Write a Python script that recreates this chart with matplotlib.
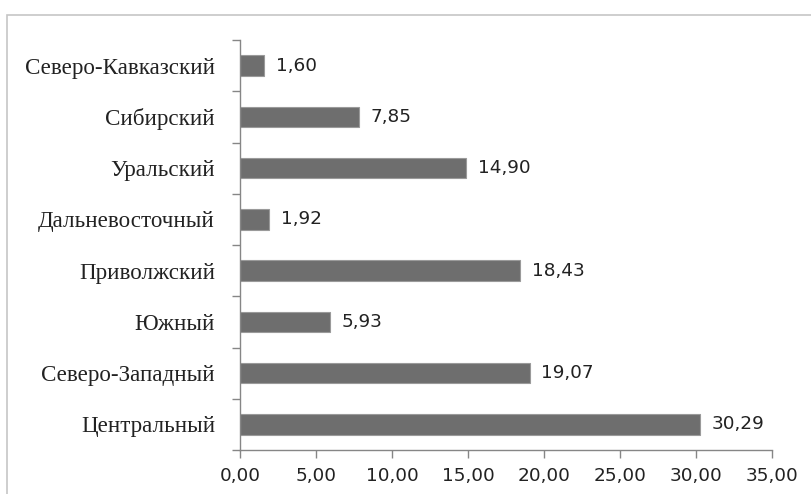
import matplotlib
matplotlib.use('Agg')
import matplotlib.pyplot as plt
from matplotlib.patches import Rectangle

# regions, bottom to top as drawn on the chart
regions = ['Центральный', 'Северо-Западный', 'Южный', 'Приволжский',
           'Дальневосточный', 'Уральский', 'Сибирский', 'Северо-Кавказский']
values = [30.29, 19.07, 5.93, 18.43, 1.92, 14.90, 7.85, 1.60]
xticks = [0, 5, 10, 15, 20, 25, 30, 35]

axis_color = '#868686'
bar_color = '#6e6e6e'
text_color = '#222222'

fig = plt.figure(figsize=(8.12, 4.94), dpi=100)
# light frame around the chart area
fig.patches.append(Rectangle((7 / 812, -0.1), 1.2, 1 - 15 / 494 + 0.1,
                             transform=fig.transFigure, fill=False,
                             edgecolor='#c6c6c6', linewidth=1.2))

ax = fig.add_axes([240 / 812, 1 - 450 / 494, 532 / 812, 410 / 494])
pos = list(range(len(regions)))
ax.barh(pos, values, height=0.4, color=bar_color, edgecolor='#9a9a9a', linewidth=0.8)

for p, v in zip(pos, values):
    ax.text(v + 0.75, p, f'{v:.2f}'.replace('.', ','), va='center', ha='left',
            fontsize=13.3, family='DejaVu Sans', color=text_color)

ax.set_xlim(0, 35)
ax.set_ylim(-0.5, len(regions) - 0.5)
ax.set_xticks(xticks)
ax.set_xticklabels([f'{t:.2f}'.replace('.', ',') for t in xticks],
                   fontsize=13.3, family='DejaVu Sans', color=text_color)

# category ticks sit on the boundaries between bars
ax.set_yticks([p - 0.5 for p in pos] + [len(regions) - 0.5])
ax.set_yticklabels([])
ax.set_yticks(pos, minor=True)
ax.set_yticklabels(regions, minor=True, fontsize=16.6, family='Liberation Serif', color=text_color)
ax.tick_params(axis='y', which='minor', length=0, pad=18)
ax.tick_params(axis='y', which='major', length=6, color=axis_color, width=1)
ax.tick_params(axis='x', length=6, color=axis_color, width=1, pad=6)

for s in ['top', 'right']:
    ax.spines[s].set_visible(False)
for s in ['left', 'bottom']:
    ax.spines[s].set_color(axis_color)
    ax.spines[s].set_linewidth(1)

fig.savefig('out.png', dpi=100)
